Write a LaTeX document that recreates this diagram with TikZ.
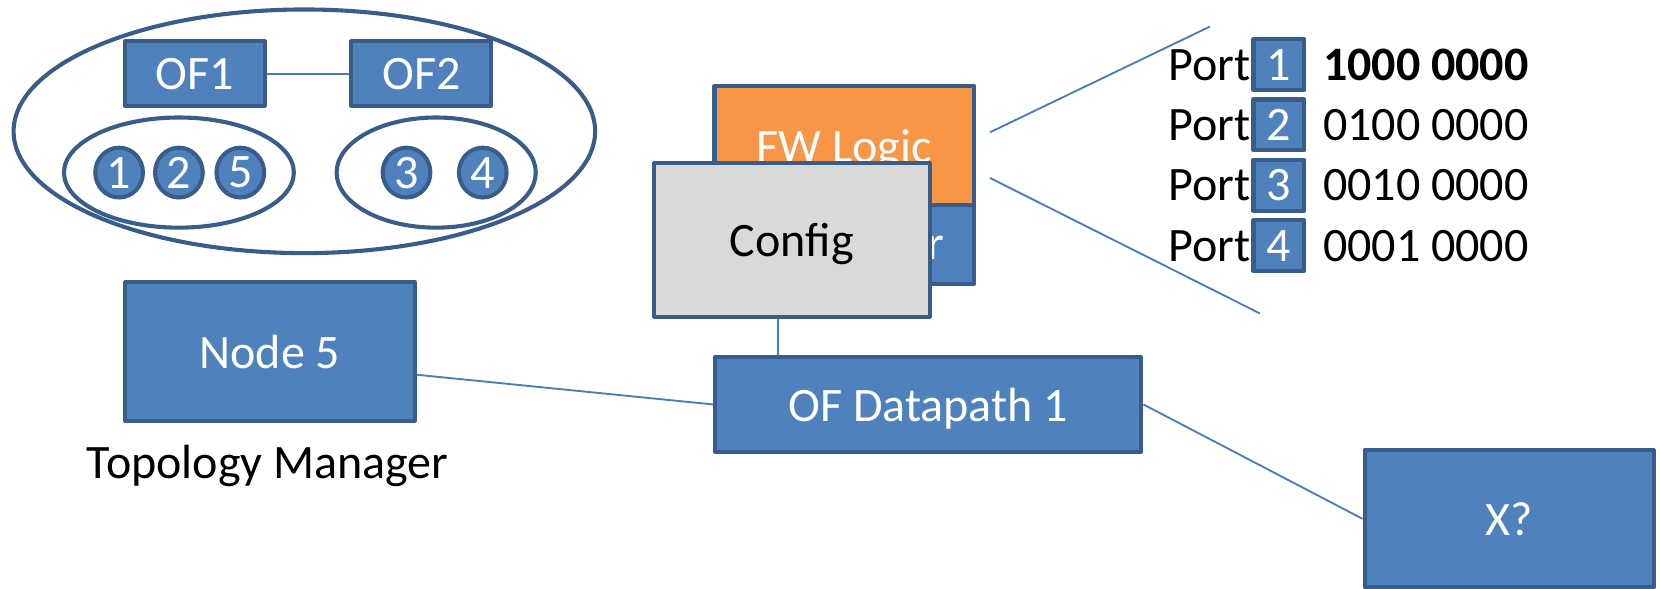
\documentclass[tikz,border=0pt]{standalone}
\usepackage{fontspec}
\setmainfont{Carlito}
\usepackage{xcolor}
\usepackage{tikz}
\usetikzlibrary{shapes.geometric}
\definecolor{boxblue}{HTML}{4F81BD}
\definecolor{boxedge}{HTML}{385D8A}
\definecolor{fworange}{HTML}{F79646}
\definecolor{cfggray}{HTML}{D9D9D9}
\definecolor{linkblue}{HTML}{4A7EBB}

\begin{document}
\begin{tikzpicture}[x=0.01cm, y=-0.01cm,
  every node/.style={font=\fontsize{12.9}{15.5}\selectfont, text depth=0pt},
  blk/.style={draw=boxedge, fill=boxblue, line width=1.1pt, line join=round,
    text=white, inner sep=0pt},
  grp/.style={draw=boxedge, ellipse, line width=1.1pt, inner sep=0pt},
  dot/.style={draw=boxedge, fill=boxblue, ellipse, line width=1.1pt,
    text=white, minimum width=0.45cm, minimum height=0.47cm, inner sep=0pt},
  lnk/.style={draw=linkblue, line width=0.5pt},
]
  \useasboundingbox (0,0) rectangle (1568,556);

  % Topology groups
  \node[grp, minimum width=5.49cm, minimum height=2.30cm] (topo) at (287.5,124) {};
  \node[grp, minimum width=2.17cm, minimum height=1.04cm] (grpa) at (169,163) {};
  \node[grp, minimum width=1.88cm, minimum height=1.04cm] (grpb) at (412,163) {};
  \node[dot] (d1) at (112.5,163) {1};
  \node[dot] (d2) at (169,163) {2};
  \node[dot] (d5) at (227,163) {5};
  \node[dot] (d3) at (384,163) {3};
  \node[dot] (d4) at (456,163) {4};
  \node[blk, minimum width=1.32cm, minimum height=0.61cm] (of1) at (184,69.5) {OF1};
  \node[blk, minimum width=1.32cm, minimum height=0.61cm] (of2) at (398,69.5) {OF2};
  \draw[lnk] (of1) -- (of2);

  % Node 5 and datapath
  \node[blk, minimum width=2.73cm, minimum height=1.31cm] (node5) at (255,332) {Node 5};
  \node (tm) at (253,436) {Topology Manager};
  \node[blk, minimum width=4.025cm, minimum height=0.89cm] (dp) at (876.75,382) {OF Datapath 1};
  \node[blk, minimum width=2.73cm, minimum height=1.29cm] (xq) at (1425.5,490) {X?};
  \draw[lnk] (node5.-9.5) -- (dp.west);
  \draw[lnk] (dp.east) -- (xq.west);

  % Stacked boxes
  \node[blk, fill=fworange, minimum width=2.45cm, minimum height=1.13cm] (fw) at (797.5,137.5) {FW Logic};
  \node[blk, minimum width=2.45cm, minimum height=0.74cm] (ctl) at (797.5,231) {};
  \node[text=white, inner sep=0pt] (ctlr) at (884,234.5) {r};
  \node[blk, fill=cfggray, text=black, minimum width=2.60cm, minimum height=1.45cm] (config) at (748,226.5) {Config};
  \draw[lnk] (config.-100.9) -- (config.-100.9 |- dp.north);

  % Port table
  \coordinate (za) at (935,125);
  \coordinate (zb) at (935,168);
  \coordinate (zt) at (1143,25);
  \coordinate (zu) at (1190,296);
  \draw[lnk] (za) -- (zt);
  \draw[lnk] (zb) -- (zu);
  \foreach \i/\bits in {1/{\textbf{1000 0000}},2/{0100 0000},3/{0010 0000},4/{0001 0000}} {
    \node[anchor=east, inner sep=0pt] (port\i) at (1182,{4+57*\i}) {Port};
    \node[blk, minimum width=0.48cm, minimum height=0.48cm] (pnum\i) at (1208,{4+57*\i}) {\i};
    \node[anchor=west, inner sep=0pt] (bits\i) at (1249,{4+57*\i}) {\bits};
  }
\end{tikzpicture}
\end{document}
